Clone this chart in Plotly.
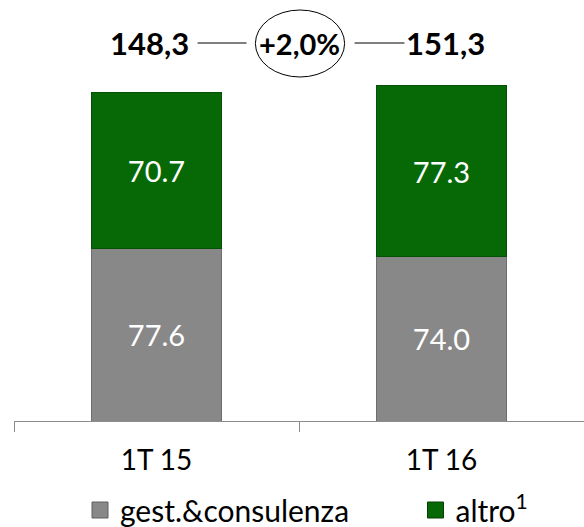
import plotly.graph_objects as go

categories = ["1T 15", "1T 16"]
gest_consulenza = [77.6, 74.0]
altro = [70.7, 77.3]
series_names = ["gest.&consulenza", "altro<sup>1</sup>"]

totals = [a + b for a, b in zip(gest_consulenza, altro)]
growth = (totals[1] / totals[0] - 1) * 100

def it(v, d=1):
    return f"{v:.{d}f}".replace(".", ",")

FONT = "Lato"
GRAY = "#888888"
GREEN = "#066906"
PX_PER_UNIT = 2.218
Y_TOP = 421 / PX_PER_UNIT

fig = go.Figure()
fig.add_trace(go.Bar(
    x=categories, y=gest_consulenza, name=series_names[0], showlegend=False,
    marker=dict(color=GRAY, line=dict(color="#6e6e6e", width=1)),
    width=0.455,
    text=[f"{v:.1f}" for v in gest_consulenza],
    textposition="inside", insidetextanchor="middle",
    textfont=dict(color="white", size=29, family=FONT),
    constraintext="none",
))
fig.add_trace(go.Bar(
    x=categories, y=altro, name=series_names[1], showlegend=False,
    marker=dict(color=GREEN, line=dict(color="#045004", width=1)),
    width=0.455,
    text=[f"{v:.1f}" for v in altro],
    textposition="inside", insidetextanchor="middle",
    textfont=dict(color="white", size=29, family=FONT),
    constraintext="none",
))
# legend entries with larger square swatches
pad = "&nbsp;" * 8
for name, col, lc, suffix in [(series_names[0], GRAY, "#5e5e5e", pad),
                              (series_names[1], GREEN, "#034003", "")]:
    fig.add_trace(go.Scatter(
        x=[None], y=[None], mode="markers", name=name + suffix,
        marker=dict(symbol="square", size=16, color=col, line=dict(color=lc, width=1)),
    ))

ytxt = (421 - 43) / PX_PER_UNIT
fig.add_annotation(x=0, y=ytxt, xref="x", yref="y", text=f"<b>{it(totals[0])}</b>",
                   showarrow=False, xshift=-7, font=dict(size=31, color="black", family=FONT))
fig.add_annotation(x=1, y=ytxt, xref="x", yref="y", text=f"<b>{it(totals[1])}</b>",
                   showarrow=False, xshift=4, font=dict(size=31, color="black", family=FONT))
fig.add_annotation(x=0.5, y=ytxt, xref="x", yref="y", text=f"<b>+{it(growth)}%</b>",
                   showarrow=False, xshift=0, font=dict(size=29, color="black", family=FONT))

for x0, x1 in [(0.144, 0.316), (0.695, 0.870)]:
    fig.add_shape(type="line", xref="x", yref="y", x0=x0, x1=x1, y0=ytxt, y1=ytxt,
                  line=dict(color="black", width=1))
fig.add_shape(type="circle", xref="x", yref="y", x0=0.347, x1=0.660,
              y0=(421 - 77) / PX_PER_UNIT, y1=(421 - 10) / PX_PER_UNIT,
              line=dict(color="black", width=1))

fig.update_layout(
    width=584, height=527,
    margin=dict(l=14, r=0, t=0, b=106, autoexpand=False),
    barmode="stack",
    plot_bgcolor="white", paper_bgcolor="white",
    font=dict(family=FONT, color="black"),
    showlegend=True,
    legend=dict(orientation="h", x=80 / 584, xanchor="left", xref="container",
                y=(527 - 510) / 527, yanchor="middle", yref="container",
                itemsizing="trace",
                font=dict(size=30, family=FONT, color="black"), traceorder="normal",
                bgcolor="rgba(0,0,0,0)"),
    xaxis=dict(showline=True, linecolor="#8c8c8c", linewidth=1, automargin=False,
               ticks="outside", tickson="boundaries", ticklen=10, tickcolor="#8c8c8c",
               tickfont=dict(size=28, family=FONT, color="black"),
               ticklabelstandoff=14, showgrid=False, fixedrange=True),
    yaxis=dict(visible=False, range=[0, Y_TOP], showgrid=False, fixedrange=True,
               automargin=False),
)

fig.write_html("out.html", config={"displayModeBar": False},
               post_script="document.body.style.margin='0';document.body.style.overflow='hidden';")
